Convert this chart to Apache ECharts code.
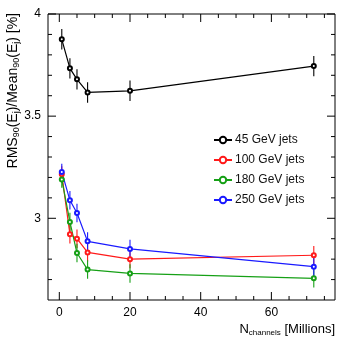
<!DOCTYPE html>
<html>
<head>
<meta charset="utf-8">
<script src="https://cdn.jsdelivr.net/npm/echarts@6/dist/echarts.min.js"></script>
<style>
  html, body { margin: 0; padding: 0; background: #fff; }
  #chart { width: 349px; height: 349px; }
</style>
</head>
<body>
<div id="chart"></div>
<script>
// number of channels (millions)
const nChannels = [0.7, 3, 5, 8, 20, 72];
const seriesNames = ["45 GeV jets", "100 GeV jets", "180 GeV jets", "250 GeV jets"];
// RMS90/Mean90 [%]
const res45 = [3.876, 3.734, 3.68, 3.616, 3.624, 3.745];
const res100 = [3.215, 2.922, 2.9, 2.833, 2.8, 2.819];
const res180 = [3.19, 2.982, 2.83, 2.749, 2.73, 2.706];
const res250 = [3.227, 3.088, 3.026, 2.887, 2.85, 2.763];
// error bars (half length)
const err45 = [0.05, 0.05, 0.05, 0.05, 0.05, 0.05];
const err100 = [0.04, 0.045, 0.045, 0.045, 0.045, 0.045];
const err180 = [0.04, 0.045, 0.045, 0.045, 0.045, 0.045];
const err250 = [0.04, 0.045, 0.045, 0.045, 0.045, 0.045];
// ticks
const xMajorTicks = [0, 20, 40, 60];
const xMinorTicks = [5, 10, 15, 25, 30, 35, 45, 50, 55, 65, 70, 75];
const yMajorTicks = [3, 3.5, 4];
const yMinorTicks = [2.7, 2.8, 2.9, 3.1, 3.2, 3.3, 3.4, 3.6, 3.7, 3.8, 3.9];

const chart = echarts.init(document.getElementById("chart"));
const colors = ["#000000", "#ff1a1a", "#16a016", "#1a1aff"];
const values = [res45, res100, res180, res250];
const errors = [err45, err100, err180, err250];
const font = "Liberation Sans, Arial, sans-serif";

const xMin = -3.2, xMax = 78;
const yMin = 2.6, yMax = 4;

const lineSeries = seriesNames.map((name, k) => ({
  name: name,
  type: "line",
  data: nChannels.map((x, i) => [x, values[k][i]]),
  symbol: "emptyCircle",
  symbolSize: 4,
  z: 3,
  color: colors[k],
  lineStyle: { width: 1.2, color: colors[k] },
  itemStyle: { color: colors[k], borderWidth: 1 },
}));

const errSeries = seriesNames.map((name, k) => ({
  name: name + " err",
  type: "custom",
  z: 2,
  encode: { x: 0, y: [1, 2] },
  data: nChannels.map((x, i) => [x, values[k][i] - errors[k][i], values[k][i] + errors[k][i]]),
  renderItem(params, api) {
    const p1 = api.coord([api.value(0), api.value(1)]);
    const p2 = api.coord([api.value(0), api.value(2)]);
    return {
      type: "line",
      shape: { x1: p1[0], y1: p1[1], x2: p2[0], y2: p2[1] },
      style: { stroke: colors[k], lineWidth: 1.1 },
    };
  },
}));

// ROOT-style inside ticks on all four sides: [x, y, kind(0=x,1=y), length]
const tickData = []
  .concat(xMajorTicks.map((v) => [v, yMin, 0, 8]))
  .concat(xMinorTicks.map((v) => [v, yMin, 0, 4]))
  .concat(yMajorTicks.map((v) => [xMin, v, 1, 8]))
  .concat(yMinorTicks.map((v) => [xMin, v, 1, 4]));

const tickSeries = {
  name: "ticks",
  type: "custom",
  silent: true,
  clip: false,
  z: 10,
  encode: { x: 0, y: 1 },
  data: tickData,
  renderItem(params, api) {
    const kind = api.value(2);
    const len = api.value(3);
    let rects;
    if (kind === 0) {
      const a = api.coord([api.value(0), yMin]);
      const b = api.coord([api.value(0), yMax]);
      rects = [[a[0] - 0.5, a[1] - len, 1, len], [b[0] - 0.5, b[1], 1, len]];
    } else {
      const a = api.coord([xMin, api.value(1)]);
      const b = api.coord([xMax, api.value(1)]);
      rects = [[a[0], a[1] - 0.5, len, 1], [b[0] - len, b[1] - 0.5, len, 1]];
    }
    return {
      type: "group",
      children: rects.map((r) => ({
        type: "rect",
        shape: { x: r[0], y: r[1], width: r[2], height: r[3] },
        style: { fill: "#000" },
      })),
    };
  },
};

const option = {
  backgroundColor: "#fff",
  animation: false,
  grid: {
    left: 48,
    right: 14,
    top: 14,
    bottom: 49,
    show: true,
    borderColor: "#000",
    borderWidth: 1,
    backgroundColor: "transparent",
  },
  legend: {
    show: true,
    orient: "vertical",
    left: 213,
    top: 134,
    padding: 0,
    itemWidth: 18,
    itemHeight: 8,
    itemGap: 8,
    data: seriesNames,
    textStyle: { color: "#111", fontSize: 12, fontFamily: font, padding: [0, 0, 0, -2] },
  },
  xAxis: {
    type: "value",
    min: xMin,
    max: xMax,
    axisLine: { show: false },
    axisTick: { show: false },
    splitLine: { show: false },
    axisLabel: {
      customValues: xMajorTicks,
      color: "#000",
      fontSize: 12,
      fontFamily: font,
      margin: 7,
    },
  },
  yAxis: {
    type: "value",
    min: yMin,
    max: yMax,
    axisLine: { show: false },
    axisTick: { show: false },
    splitLine: { show: false },
    axisLabel: {
      customValues: yMajorTicks,
      color: "#000",
      fontSize: 12,
      fontFamily: font,
      margin: 7,
    },
  },
  graphic: [
    {
      type: "text",
      x: 13,
      y: 13,
      rotation: Math.PI / 2,
      style: {
        text: "RMS{s|90}(E{s|j})/Mean{s|90}(E{s|j}) [%]",
        font: "14px " + font,
        fill: "#000",
        align: "right",
        verticalAlign: "middle",
        rich: {
          s: { fontSize: 9, fontFamily: font, verticalAlign: "bottom", padding: [7, 0, 0, 0] },
        },
      },
    },
    {
      type: "text",
      x: 335,
      y: 329,
      style: {
        text: "N{s|channels} [Millions]",
        font: "13px " + font,
        fill: "#000",
        align: "right",
        verticalAlign: "middle",
        rich: {
          s: { fontSize: 8, fontFamily: font, verticalAlign: "bottom", padding: [7, 0, 0, 0] },
        },
      },
    },
  ],
  series: [tickSeries].concat(errSeries, lineSeries),
};
chart.setOption(option);
</script>
</body>
</html>
